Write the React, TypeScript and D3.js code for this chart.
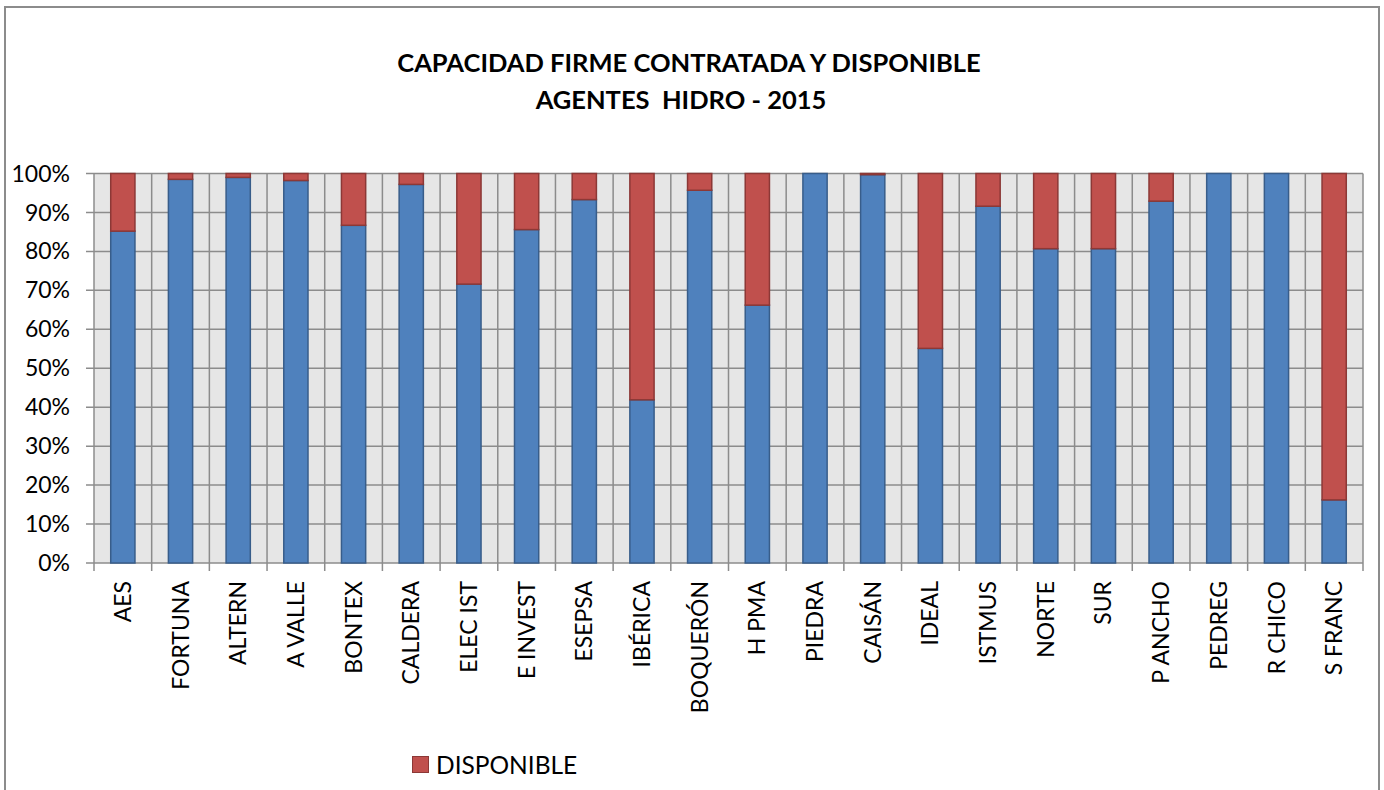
import { useEffect, useRef } from "react";
import * as d3 from "d3";

const categories = [
  "AES", "FORTUNA", "ALTERN", "A VALLE", "BONTEX", "CALDERA", "ELEC IST",
  "E INVEST", "ESEPSA", "IBÉRICA", "BOQUERÓN", "H PMA", "PIEDRA", "CAISÁN",
  "IDEAL", "ISTMUS", "NORTE", "SUR", "P ANCHO", "PEDREG", "R CHICO", "S FRANC",
];

// share of firm capacity contracted (%)
const contratada = [
  85.2, 98.5, 99.0, 98.2, 86.7, 97.2, 71.6, 85.6, 93.3, 41.9, 95.7, 66.2,
  100, 99.7, 55.1, 91.6, 80.7, 80.7, 92.9, 100, 100, 16.2,
];

// share available (%)
const disponible = contratada.map((v) => +(100 - v).toFixed(1));

const yTicks = [0, 10, 20, 30, 40, 50, 60, 70, 80, 90, 100];

const FONT = "Lato, 'Open Sans', sans-serif";

const App = () => {
  const ref = useRef<SVGSVGElement>(null);

  useEffect(() => {
    if (!ref.current) return;
    const svg = d3.select(ref.current);
    svg.selectAll("*").remove();

    const W = 1384;
    const H = 790;
    const margin = { top: 173.5, right: 21, bottom: 227, left: 94 };
    const width = W - margin.left - margin.right;
    const height = H - margin.top - margin.bottom;

    // chart frame
    svg.append("rect").attr("width", W).attr("height", H).attr("fill", "#fff");
    svg
      .append("rect")
      .attr("x", 5)
      .attr("y", 7)
      .attr("width", 1374)
      .attr("height", 800)
      .attr("fill", "none")
      .attr("stroke", "#8c8c8c")
      .attr("stroke-width", 2);

    // title
    const title = svg
      .append("text")
      .attr("text-anchor", "middle")
      .attr("font-family", FONT)
      .attr("font-weight", "bold")
      .attr("font-size", 25.5)
      .attr("fill", "#000");
    title.append("tspan").attr("x", 689).attr("y", 72).text("CAPACIDAD FIRME CONTRATADA Y DISPONIBLE");
    title.append("tspan").attr("x", 681).attr("y", 109).text("AGENTES\u00a0\u00a0HIDRO - 2015");

    const g = svg.append("g").attr("transform", `translate(${margin.left},${margin.top})`);

    const x = d3.scaleBand<string>().domain(categories).range([0, width]).paddingInner(0.58).paddingOuter(0.29);
    const y = d3.scaleLinear().domain([0, 100]).range([height, 0]);
    const step = x.step();

    g.append("rect").attr("width", width).attr("height", height).attr("fill", "#e6e6e6");

    // horizontal grid
    g.selectAll(".hgrid")
      .data(yTicks)
      .enter()
      .append("line")
      .attr("x1", -8)
      .attr("x2", width)
      .attr("y1", (d) => y(d))
      .attr("y2", (d) => y(d))
      .attr("stroke", "#8c8c8c")
      .attr("stroke-width", 1.5);

    // vertical grid at category boundaries
    const bounds = d3.range(categories.length + 1);
    g.selectAll(".vgrid")
      .data(bounds)
      .enter()
      .append("line")
      .attr("x1", (d) => d * step)
      .attr("x2", (d) => d * step)
      .attr("y1", 0)
      .attr("y2", height + 8)
      .attr("stroke", "#8c8c8c")
      .attr("stroke-width", 1.5);

    // stacked bars
    g.selectAll(".blue")
      .data(categories)
      .enter()
      .append("rect")
      .attr("x", (d) => x(d)!)
      .attr("width", x.bandwidth())
      .attr("y", (_, i) => y(contratada[i]))
      .attr("height", (_, i) => height - y(contratada[i]))
      .attr("fill", "#4f81bd")
      .attr("stroke", "#385d8a")
      .attr("stroke-width", 1.5);

    g.selectAll(".red")
      .data(categories)
      .enter()
      .append("rect")
      .attr("x", (d) => x(d)!)
      .attr("width", x.bandwidth())
      .attr("y", (_, i) => y(contratada[i] + disponible[i]))
      .attr("height", (_, i) => y(contratada[i]) - y(contratada[i] + disponible[i]))
      .attr("fill", "#c0504d")
      .attr("stroke", "#8c3836")
      .attr("stroke-width", 1.5)
      .attr("display", (_, i) => (disponible[i] > 0 ? null : "none"));

    // y labels
    g.selectAll(".ylab")
      .data(yTicks)
      .enter()
      .append("text")
      .attr("x", -24)
      .attr("y", (d) => y(d))
      .attr("dy", "0.35em")
      .attr("text-anchor", "end")
      .attr("font-family", FONT)
      .attr("font-size", 23)
      .attr("fill", "#000")
      .text((d) => `${d}%`);

    // x labels
    g.selectAll(".xlab")
      .data(categories)
      .enter()
      .append("text")
      .attr("transform", (d) => `translate(${x(d)! + x.bandwidth() / 2},${height + 18}) rotate(-90)`)
      .attr("dy", "0.35em")
      .attr("text-anchor", "end")
      .attr("font-family", FONT)
      .attr("font-size", 23)
      .attr("fill", "#000")
      .text((d) => d);

    // legend
    svg
      .append("rect")
      .attr("x", 412.5)
      .attr("y", 756.5)
      .attr("width", 16)
      .attr("height", 16)
      .attr("fill", "#c0504d")
      .attr("stroke", "#8c3836")
      .attr("stroke-width", 1);
    svg
      .append("text")
      .attr("x", 436)
      .attr("y", 774)
      .attr("font-family", FONT)
      .attr("font-size", 24.5)
      .attr("fill", "#000")
      .text("DISPONIBLE");
  }, []);

  return (
    <svg
      ref={ref}
      width={1384}
      height={790}
      style={{ position: "absolute", left: 0, top: 0, display: "block" }}
    />
  );
};

export default App;
